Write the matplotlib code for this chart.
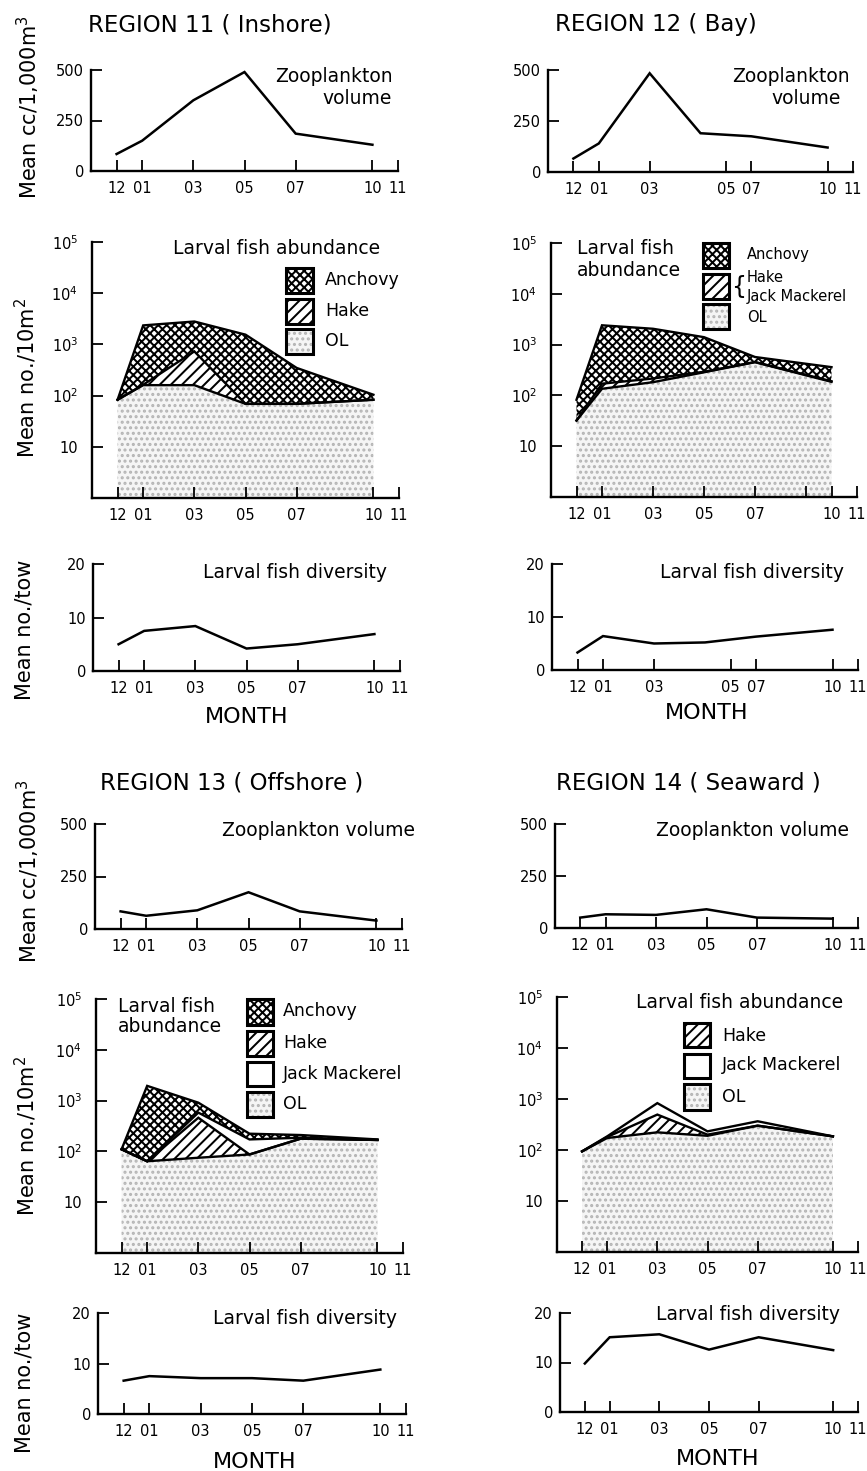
import matplotlib
matplotlib.use("Agg")
import matplotlib.pyplot as plt
from matplotlib.patches import Rectangle
from matplotlib.ticker import NullLocator
import numpy as np

# ---------------- data ----------------
month_tick_labels = ["12", "01", "03", "05", "07", "10", "11"]
sample_months = ["12", "01", "03", "05", "07", "10"]

# zooplankton volume (mean cc / 1,000 m^3)
r11_zoo = [84, 150, 350, 490, 185, 130]
r12_zoo = [66, 140, 484, 190, 175, 120]
r13_zoo = [84, 63, 89, 175, 84, 40]
r14_zoo = [50, 66, 63, 90, 50, 45]

# larval fish diversity (mean no. / tow)
r11_div = [5.0, 7.5, 8.4, 4.2, 5.0, 6.9]
r12_div = [3.3, 6.4, 5.0, 5.2, 6.3, 7.6]
r13_div = [6.6, 7.5, 7.1, 7.1, 6.6, 8.8]
r14_div = [9.8, 15.1, 15.7, 12.6, 15.1, 12.5]

# larval fish abundance: cumulative upper boundaries (mean no. / 10 m^2)
r11_ol = [83, 160, 160, 69, 69, 83]
r11_ol_hake = [83, 163, 730, 69, 69, 83]
r11_total = [83, 2350, 2800, 1550, 347, 104]

r12_ol = [32, 135, 182, 285, 450, 185]
r12_ol_hake_jack = [32, 170, 215, 292, 455, 190]
r12_total = [82, 2400, 2050, 1400, 570, 360]

r13_ol = [110, 64, 75, 87, 178, 168]
r13_ol_hake = [110, 64, 460, 87, 178, 168]
r13_ol_hake_jack = [110, 64, 580, 172, 186, 168]
r13_total = [110, 1950, 910, 223, 210, 172]

r14_ol = [94, 172, 222, 190, 300, 185]
r14_ol_hake = [94, 180, 495, 200, 300, 185]
r14_total = [94, 185, 830, 232, 366, 185]

# ---------------- styling ----------------
W, H, DPI = 867, 1471, 100
plt.rcParams['font.family'] = ['DejaVu Sans']
plt.rcParams['mathtext.default'] = 'regular'
plt.rcParams['hatch.linewidth'] = 1.45

ANCH = dict(face='white', hc='black', hatch='xxxx')
HAKE = dict(face='white', hc='black', hatch='///')
JACK = dict(face='white', hc='black', hatch=None)
OL = dict(face='#f5f5f5', hc='#b4b4b4', hatch='...')

ANNOT_FS = 13.5

fig = plt.figure(figsize=(W / DPI, H / DPI), dpi=DPI)


def month_pos(months):
    return [int(m) % 12 for m in months]


x = month_pos(sample_months)
std_ticks = month_pos(month_tick_labels)
r12_upper_ticks = [0, 1, 3, 6, 7, 10, 11]   # as drawn in the original


def add_ax(x0, x1, y0, y1):
    return fig.add_axes([x0 / W, 1 - y1 / H, (x1 - x0) / W, (y1 - y0) / H])


def setup(ax, ticks, labels, ypad):
    for s in ('top', 'right'):
        ax.spines[s].set_visible(False)
    for s in ('left', 'bottom'):
        ax.spines[s].set_linewidth(1.7)
    ax.set_xlim(-1, 11)
    ax.set_xticks(ticks)
    ax.set_xticklabels(labels)
    ax.tick_params(axis='both', direction='in', length=8, width=1.3,
                   labelsize=10.5)
    ax.tick_params(axis='x', pad=7)
    ax.tick_params(axis='y', pad=ypad)
    ax.patch.set_alpha(0)


def zoo_panel(box, vals, ticks=std_ticks):
    ax = add_ax(*box)
    ax.plot(x, vals, color='black', lw=1.8, solid_joinstyle='miter')
    ax.set_ylim(0, 500)
    ax.set_yticks([0, 250, 500])
    setup(ax, ticks, month_tick_labels, 5)
    return ax


def div_panel(box, vals, ticks=std_ticks):
    ax = add_ax(*box)
    ax.plot(x, vals, color='black', lw=1.8, solid_joinstyle='miter')
    ax.set_ylim(0, 20)
    ax.set_yticks([0, 10, 20])
    setup(ax, ticks, month_tick_labels, 5)
    return ax


def fill(ax, lo, hi, st):
    ax.fill_between(x, lo, hi, facecolor=st['face'], edgecolor=st['hc'],
                    hatch=st['hatch'], linewidth=0)


def abund_panel(box, layers, ticks=std_ticks, labels=month_tick_labels):
    ax = add_ax(*box)
    ax.set_yscale('log')
    lo = np.ones(len(x))
    for upper, st in layers:
        fill(ax, lo, np.asarray(upper, float), st)
        lo = np.asarray(upper, float)
    for upper, st in layers:
        ax.plot(x, upper, color='black', lw=1.7, solid_joinstyle='miter')
    ax.set_ylim(1, 1e5)
    ax.set_yticks([10, 1e2, 1e3, 1e4, 1e5])
    ax.set_yticklabels(['10', '$10^2$', '$10^3$', '$10^4$', '$10^5$'])
    ax.yaxis.set_minor_locator(NullLocator())
    setup(ax, ticks, labels, 10)
    return ax


def ftext(px, py, s, **kw):
    kw.setdefault('va', 'center')
    fig.text(px / W, 1 - py / H, s, **kw)


def legend_box(x0, x1, y0, y1, st):
    xy = (x0 / W, 1 - y1 / H)
    w, h = (x1 - x0) / W, (y1 - y0) / H
    fig.add_artist(Rectangle(xy, w, h, transform=fig.transFigure,
                             facecolor=st['face'], edgecolor=st['hc'],
                             hatch=st['hatch'], linewidth=0))
    fig.add_artist(Rectangle(xy, w, h, transform=fig.transFigure,
                             facecolor='none', edgecolor='black',
                             linewidth=2.2))


def legend(x0, x1, boxes, label_x, labels, label_ys, fs):
    for (y0, y1, st) in boxes:
        legend_box(x0, x1, y0, y1, st)
    for lab, ly in zip(labels, label_ys):
        ftext(label_x, ly, lab, ha='left', fontsize=fs)


# ---------------- Region 11 ----------------
zoo_panel((91, 398, 70, 171), r11_zoo)
abund_panel((92, 399, 242, 498),
            [(r11_ol, OL), (r11_ol_hake, HAKE), (r11_total, ANCH)])
div_panel((93, 400, 564, 671), r11_div)

ftext(210, 25, 'REGION 11 ( Inshore)', ha='center', fontsize=16.5)
ftext(334, 77, 'Zooplankton', ha='center', fontsize=ANNOT_FS)
ftext(357, 99, 'volume', ha='center', fontsize=ANNOT_FS)
ftext(277, 249, 'Larval fish abundance', ha='center', fontsize=ANNOT_FS)
legend(286, 313, [(268, 293, ANCH), (299, 324, HAKE), (329, 354, OL)],
       325, ['Anchovy', 'Hake', 'OL'], [280, 311, 341], 12.5)
ftext(295, 573, 'Larval fish diversity', ha='center', fontsize=ANNOT_FS)
ftext(247, 717, 'MONTH', ha='center', fontsize=16)

# ---------------- Region 12 ----------------
zoo_panel((548, 853, 70, 172), r12_zoo, ticks=r12_upper_ticks)
abund_panel((551, 857, 243, 497),
            [(r12_ol, OL), (r12_ol_hake_jack, HAKE), (r12_total, ANCH)],
            ticks=[0, 1, 3, 5, 7, 9, 10, 11],
            labels=["12", "01", "03", "05", "07", "", "10", "11"])
div_panel((552, 858, 564, 670), r12_div, ticks=r12_upper_ticks)

ftext(656, 25, 'REGION 12 ( Bay)', ha='center', fontsize=16.5)
ftext(791, 77, 'Zooplankton', ha='center', fontsize=ANNOT_FS)
ftext(806, 99, 'volume', ha='center', fontsize=ANNOT_FS)
ftext(577, 249, 'Larval fish', ha='left', fontsize=ANNOT_FS)
ftext(577, 270, 'abundance', ha='left', fontsize=ANNOT_FS)
legend(703, 729, [(243, 268, ANCH), (274, 299, HAKE), (304, 329, OL)],
       747, ['Anchovy', 'Hake', 'Jack Mackerel', 'OL'],
       [255, 277, 297, 317], 10.5)
ftext(739, 287, '{', ha='center', fontsize=17)
ftext(752, 573, 'Larval fish diversity', ha='center', fontsize=ANNOT_FS)
ftext(707, 713, 'MONTH', ha='center', fontsize=16)

# ---------------- Region 13 ----------------
zoo_panel((95, 402, 824, 929), r13_zoo)
abund_panel((96, 403, 999, 1253),
            [(r13_ol, OL), (r13_ol_hake, HAKE), (r13_ol_hake_jack, JACK),
             (r13_total, ANCH)])
div_panel((98, 406, 1313, 1414), r13_div)

ftext(232, 783, 'REGION 13 ( Offshore )', ha='center', fontsize=16.5)
ftext(319, 830, 'Zooplankton volume', ha='center', fontsize=ANNOT_FS)
ftext(118, 1006, 'Larval fish', ha='left', fontsize=ANNOT_FS)
ftext(118, 1027, 'abundance', ha='left', fontsize=ANNOT_FS)
legend(247, 273, [(999, 1025, ANCH), (1031, 1056, HAKE), (1062, 1086, JACK),
                  (1092, 1117, OL)],
       283, ['Anchovy', 'Hake', 'Jack Mackerel', 'OL'],
       [1011, 1043, 1074, 1104], 12.5)
ftext(305, 1318, 'Larval fish diversity', ha='center', fontsize=ANNOT_FS)
ftext(255, 1462, 'MONTH', ha='center', fontsize=16)

# ---------------- Region 14 ----------------
zoo_panel((555, 858, 824, 928), r14_zoo)
abund_panel((557, 858, 997, 1252),
            [(r14_ol, OL), (r14_ol_hake, HAKE), (r14_total, JACK)])
div_panel((560, 858, 1313, 1412), r14_div)

ftext(688, 783, 'REGION 14 ( Seaward )', ha='center', fontsize=16.5)
ftext(753, 830, 'Zooplankton volume', ha='center', fontsize=ANNOT_FS)
ftext(740, 1002, 'Larval fish abundance', ha='center', fontsize=ANNOT_FS)
legend(684, 710, [(1023, 1047, HAKE), (1054, 1078, JACK), (1084, 1110, OL)],
       722, ['Hake', 'Jack Mackerel', 'OL'], [1036, 1065, 1097], 12.5)
ftext(748, 1315, 'Larval fish diversity', ha='center', fontsize=ANNOT_FS)
ftext(718, 1459, 'MONTH', ha='center', fontsize=16)

# ---------------- y-axis labels (left column) ----------------
for cy in (107, 871):
    ftext(28, cy, 'Mean cc/1,000m$^3$', ha='center', rotation=90, fontsize=15)
for cy in (378, 1136):
    ftext(26, cy, 'Mean no./10m$^2$', ha='center', rotation=90, fontsize=15)
for cy in (630, 1383):
    ftext(25, cy, 'Mean no./tow', ha='center', rotation=90, fontsize=15)

fig.savefig('out.png', dpi=DPI)
